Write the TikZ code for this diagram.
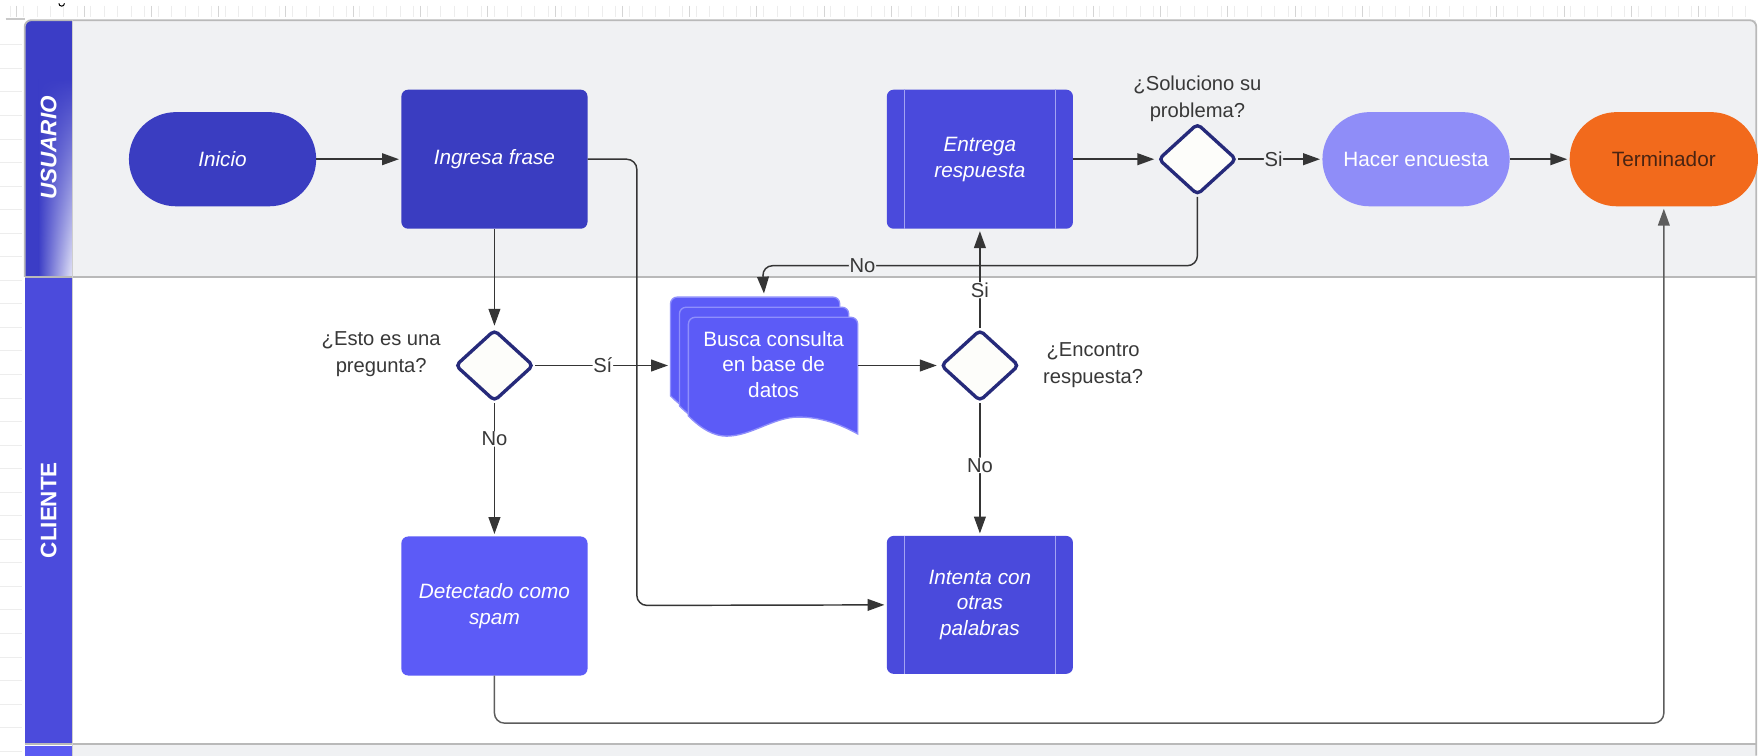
\documentclass[tikz,border=0pt]{standalone}
\usepackage{fontspec}
\setmainfont{Liberation Sans}
\usetikzlibrary{shapes.geometric,arrows.meta,fadings}

\definecolor{laneA}{HTML}{F0F1F3}
\definecolor{laneB}{HTML}{FFFFFF}
\definecolor{poolC}{HTML}{B9B9B9}
\definecolor{hdrA}{HTML}{3B3DC6}
\definecolor{hdrB}{HTML}{4B4BDC}
\definecolor{hdrC}{HTML}{5A5AF2}
\definecolor{darkBlue}{HTML}{3A3DC1}
\definecolor{procBlue}{HTML}{4A4ADC}
\definecolor{brightBlue}{HTML}{5C5BF7}
\definecolor{procLine}{HTML}{A3A3F2}
\definecolor{sheetLine}{HTML}{8F8FFB}
\definecolor{lilac}{HTML}{8F8DF8}
\definecolor{orangeT}{HTML}{F26A1C}
\definecolor{termText}{HTML}{4A2412}
\definecolor{diaC}{HTML}{262A7A}
\definecolor{diaF}{HTML}{FDFDFA}
\definecolor{lineC}{HTML}{353535}
\definecolor{labelC}{HTML}{383838}
\definecolor{rulerC}{HTML}{EDEDED}

\tikzfading[name=hdrfade, top color=transparent!100, bottom color=transparent!0]

\newcommand{\boxfont}{\fontsize{18.5}{23}\selectfont}

\begin{document}
\begin{tikzpicture}[x=1pt,y=-1pt,
  stadium/.style={rectangle, rounded corners=42pt, minimum width=167pt,
    minimum height=84pt, inner sep=0pt, align=center},
  taskbox/.style={rectangle, rounded corners=6pt, minimum width=166pt,
    minimum height=124pt, inner sep=0pt, align=center, text=white,
    font=\boxfont\itshape},
  dia/.style={diamond, draw=diaC, line width=3pt, fill=diaF,
    minimum width=70pt, minimum height=64pt, inner sep=0pt,
    rounded corners=4pt},
  arr/.style={draw=lineC, line width=1.3pt, rounded corners=9pt,
    shorten >=2pt, -{Triangle[length=15pt,width=10.5pt]}},
  lbl/.style={inner sep=0.6pt, text=labelC, font=\fontsize{18}{22}\selectfont},
  qlbl/.style={align=center, text=labelC, inner sep=0pt,
    font=\fontsize{18}{24}\selectfont},
  hdrtext/.style={rotate=90, text=white},
  procline/.style={draw=procLine, line width=1pt},
  sheet/.style={fill=brightBlue, draw=sheetLine, line width=1.2pt}
]
\useasboundingbox (0,0) rectangle (1568,674);
\fill[white] (0,0) rectangle (1568,674);

% ruler ticks along the top and faint grid at the left margin
\foreach \x in {9,21,...,1566} \draw[rulerC, line width=0.8pt] (\x,5) -- (\x,15);
\foreach \x in {15,75,...,1566} \draw[rulerC!90!black, line width=0.8pt] (\x,5) -- (\x,15);
\foreach \y in {40,61,...,674} \draw[rulerC, line width=0.8pt] (0,\y) -- (20,\y);
\draw[black, line width=0.9pt] (52.5,3) arc[start angle=180, end angle=0, radius=2.5];
\draw[rulerC!85!black, line width=1pt] (5,17) -- (22,17);

% lanes
\fill[laneA] (65,18) rectangle (1566,247);
\fill[laneB] (65,247) rectangle (1566,663);
\fill[laneA] (65,663) rectangle (1566,674);

% lane headers
\fill[hdrA] (22,247) -- (22,24) arc[start angle=180, end angle=270, radius=6] -- (65,18) -- (65,247) -- cycle;
\shade[left color=hdrA, right color=hdrA!12!white, path fading=hdrfade] (34,70) rectangle (65,247);
\fill[hdrB] (22,248) rectangle (65,663);
\fill[hdrC] (22,665) rectangle (65,674);
\node[hdrtext, font=\fontsize{20}{24}\selectfont\bfseries\itshape] (husr) at (43.5,132) {USUARIO};
\node[hdrtext, font=\fontsize{20}{24}\selectfont\bfseries] (hcli) at (43.5,455) {CLIENTE};

% pool outline and lane dividers
\draw[poolC, line width=1.6pt] (22,247) -- (22,24) arc[start angle=180, end angle=270, radius=6]
  -- (1560.5,18) arc[start angle=270, end angle=360, radius=6] -- (1566.5,674);
\draw[poolC, line width=1.6pt] (22,247) -- (1566,247);
\draw[poolC, line width=1.6pt] (22,663.5) -- (1566,663.5);
\draw[poolC!70!white, line width=1pt] (65,18) -- (65,674);

% ---- nodes, USUARIO lane
\node[stadium, fill=darkBlue, text=white, font=\boxfont\itshape] (ini) at (198.5,142) {Inicio};
\node[taskbox, fill=darkBlue] (ing) at (441,142) {Ingresa frase};
\node[taskbox, fill=procBlue] (ent) at (874,142) {Entrega\\respuesta};
\node[dia] (sol) at (1068,142) {};
\node[qlbl] (solq) at (1068,88) {¿Soluciono su\\problema?};
\node[stadium, fill=lilac, text=white, font=\boxfont] (enc) at (1263,142) {Hacer encuesta};
\node[stadium, fill=orangeT, text=termText, font=\boxfont, minimum width=168pt] (ter) at (1484,142) {Terminador};

% ---- nodes, CLIENTE lane
\node[dia] (esto) at (441,326) {};
\node[qlbl] (estoq) at (340,316) {¿Esto es una\\pregunta?};

% stacked document sheets
\foreach \d in {-2,-1,0} {
  \begin{scope}[shift={(8*\d,9*\d)}]
    \path[sheet] (614,371) -- (614,289) arc[start angle=180, end angle=270, radius=6]
      -- (759,283) arc[start angle=270, end angle=360, radius=6] -- (765,387)
      .. controls (752,380) and (735,372) .. (712,372)
      .. controls (690,372) and (670,389) .. (648,389)
      .. controls (637,389) and (626,383) .. (614,371) -- cycle;
  \end{scope}
}
\node[rectangle, minimum width=167pt, minimum height=124pt, inner sep=0pt] (busca) at (681.5,326) {};
\node[font=\boxfont, text=white, align=center] (buscat) at (690,325) {Busca consulta\\en base de\\datos};

\node[dia] (encq) at (874,326) {};
\node[qlbl] (encql) at (975,326) {¿Encontro\\respuesta?};

\node[taskbox, fill=brightBlue] (det) at (441,540.5) {Detectado como\\spam};
\node[taskbox, fill=procBlue, minimum height=123pt] (int) at (874,539.5) {Intenta con\\otras\\palabras};

% side bars of the predefined-process boxes
\foreach \n in {ent,int} {
  \draw[procline] ([xshift=16pt]\n.north west) -- ([xshift=16pt]\n.south west);
  \draw[procline] ([xshift=-16pt]\n.north east) -- ([xshift=-16pt]\n.south east);
}

% ---- connectors
\draw[arr] (ini) -- (ing);
\coordinate (bendA) at (568,540);
\draw[arr] (ing.east) -| (bendA) -- (int.west);
\draw[arr] (ing.south) -- (esto.north);
\draw[arr] (esto.south) -- node[lbl, fill=laneB, pos=0.27] (noA) {No} (det.north);
\draw[arr] (esto.east) -- node[lbl, fill=laneB] (siA) {Sí} (busca.west);
\draw[arr] (busca.east) -- (encq.west);
\draw[arr] (encq.north) -- node[lbl, fill=laneB, pos=0.38] (siB) {Si} (ent.south);
\draw[arr] (encq.south) -- node[lbl, fill=laneB, pos=0.47] (noB) {No} (int.north);
\draw[arr] (ent.east) -- (sol.west);
\draw[arr] (sol.east) -- node[lbl, fill=laneA, pos=0.42] (siC) {Si} (enc.west);
\draw[arr] (enc.east) -- (ter.west);
\coordinate (bendB) at (680,237);
\draw[arr] (sol.south) |- node[lbl, fill=laneA, pos=0.885] (noC) {No} (bendB) -- (busca.north);
\coordinate (bendC) at (1484,645);
\draw[arr, draw=lineC!80!white] (det.south) |- (bendC) -- (ter.south);
\end{tikzpicture}
\end{document}
